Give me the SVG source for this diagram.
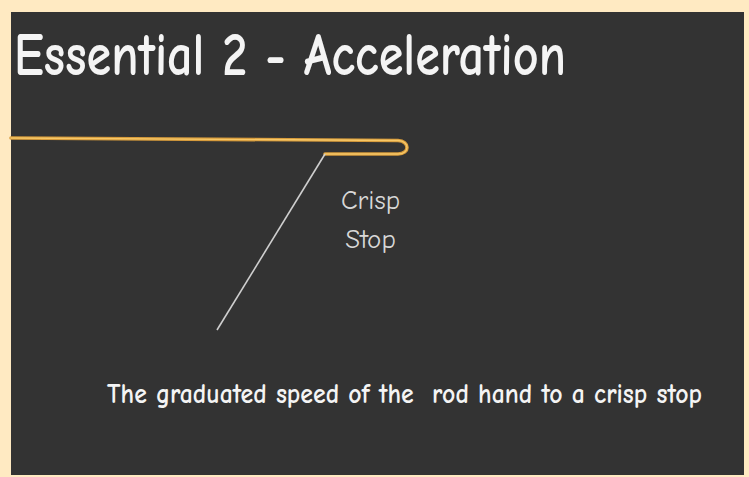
<svg xmlns="http://www.w3.org/2000/svg" width="749" height="477" viewBox="0 0 749 477">
<style>
.t{font-family:"Comic Neue","Noto Sans","DejaVu Sans",sans-serif;fill:#f4f4f4}
.lbl{font-family:"Comic Neue","Noto Sans","DejaVu Sans",sans-serif;fill:#d8d8d8;font-size:27px;text-anchor:middle}
</style>
<rect x="0" y="0" width="749" height="477" fill="#FFEAC2"/>
<rect x="11" y="12" width="733" height="463" fill="#333333"/>
<g id="title"><text class="t" x="14" y="75" font-size="61" font-weight="bold" textLength="552" lengthAdjust="spacingAndGlyphs">Essential 2 - Acceleration</text></g>
<g id="rod">
<path d="M11,138 L398,140.5 C410,141 410,154 398,154 L325,154" fill="none" stroke="#D69B3C" stroke-width="3.6" stroke-linecap="round" stroke-linejoin="round"/>
<path d="M11,138 L398,140.5 C410,141 410,154 398,154 L325,154" fill="none" stroke="#F7C766" stroke-width="1.4" stroke-linecap="round" stroke-linejoin="round"/>
</g>
<g id="connectors">
<line x1="325" y1="154" x2="217" y2="330" stroke="#cfcfcf" stroke-width="1.6"/>
</g>
<g id="crisp-stop">
<text class="lbl" x="370.5" y="209">Crisp</text>
<text class="lbl" x="370.5" y="248">Stop</text>
</g>
<g id="caption"><text class="t" x="107" y="403" font-size="28" font-weight="bold" textLength="595" lengthAdjust="spacingAndGlyphs" xml:space="preserve">The graduated speed of the  rod hand to a crisp stop</text></g>
</svg>
